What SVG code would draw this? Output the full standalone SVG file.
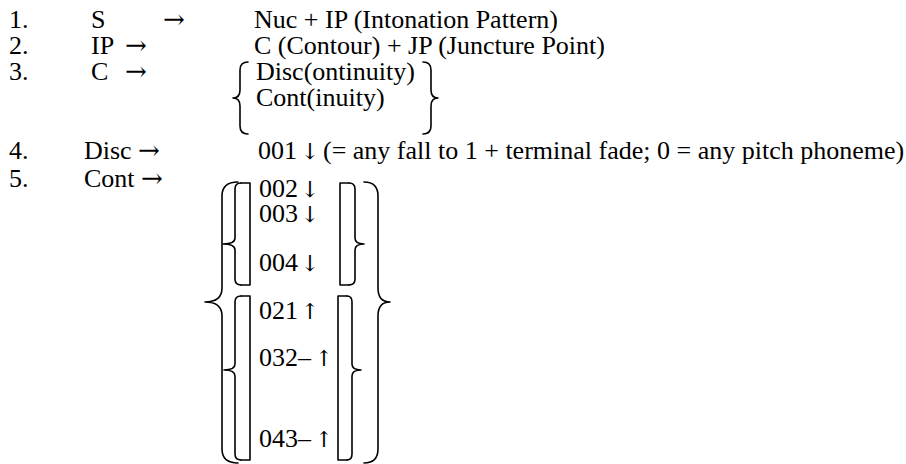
<svg xmlns="http://www.w3.org/2000/svg" width="906" height="464" viewBox="0 0 906 464">
  <style>
    text { font-family: "Liberation Serif", "Times New Roman", serif; font-size: 26px; fill: #000; }
    .ar { font-family: "DejaVu Serif", "DejaVu Sans", serif; }
    .vr { font-family: "DejaVu Serif", "DejaVu Sans", serif; font-size: 22px; text-anchor: middle; }
    .br { fill: none; stroke: #000; stroke-width: 1.6; stroke-linejoin: round; stroke-linecap: round; }
  </style>
  <rect width="906" height="464" fill="#fff"/>

  <!-- Rule 1 -->
  <g id="rule1">
    <text x="9" y="28">1.</text>
    <text x="91" y="28">S</text>
    <text x="163" y="28" class="ar">→</text>
    <text x="254" y="28">Nuc + IP (Intonation Pattern)</text>
  </g>

  <!-- Rule 2 -->
  <g id="rule2">
    <text x="9" y="54">2.</text>
    <text x="91" y="54">IP</text>
    <text x="125" y="54" class="ar">→</text>
    <text x="254" y="54">C (Contour) + JP (Juncture Point)</text>
  </g>

  <!-- Rule 3: choice between two contour types -->
  <g id="rule3">
    <text x="9" y="80">3.</text>
    <text x="91" y="80">C</text>
    <text x="125" y="80" class="ar">→</text>
    <text x="256" y="80">Disc(ontinuity)</text>
    <text x="256" y="106">Cont(inuity)</text>
    <path class="br" d="M248,62 Q240,62 240,70 L240,90 Q240,98 233,98 Q240,98 240,106 L240,126 Q240,134 248,134"/>
    <path class="br" d="M423,62 Q431,62 431,70 L431,90 Q431,98 438,98 Q431,98 431,106 L431,126 Q431,134 423,134"/>
  </g>

  <!-- Rule 4 -->
  <g id="rule4">
    <text x="9" y="159">4.</text>
    <text x="84" y="159">Disc</text>
    <text x="138" y="159" class="ar">→</text>
    <text x="258" y="159">001</text>
    <text x="310" y="159" class="vr">↓</text>
    <text x="323" y="159">(= any fall to 1 + terminal fade; 0 = any pitch phoneme)</text>
  </g>

  <!-- Rule 5: falling and rising continuity contours -->
  <g id="rule5">
    <text x="9" y="187">5.</text>
    <text x="84" y="187">Cont</text>
    <text x="141" y="187" class="ar">→</text>

    <g id="falling">
      <text x="259" y="197">002</text>
      <text x="310" y="197" class="vr">↓</text>
      <text x="259" y="222">003</text>
      <text x="310" y="222" class="vr">↓</text>
      <text x="259" y="271">004</text>
      <text x="310" y="271" class="vr">↓</text>
      <path class="br" d="M241,183 L250,183 L250,285 L241,285"/>
      <path class="br" d="M241,183 Q235,183 235,189 L235,238 Q235,244 223,244 Q235,244 235,250 L235,279 Q235,285 241,285"/>
      <path class="br" d="M349,183 L340,183 L340,285 L349,285"/>
      <path class="br" d="M349,183 Q355,183 355,189 L355,238 Q355,244 364,244 Q355,244 355,250 L355,279 Q355,285 349,285"/>
    </g>

    <g id="rising">
      <text x="259" y="319">021</text>
      <text x="310" y="319" class="vr">↑</text>
      <text x="259" y="366">032–</text>
      <text x="324" y="366" class="vr">↑</text>
      <text x="259" y="447">043–</text>
      <text x="324" y="447" class="vr">↑</text>
      <path class="br" d="M241,296 L250,296 L250,460 L241,460"/>
      <path class="br" d="M241,296 Q235,296 235,302 L235,364 Q235,370 224,370 Q235,370 235,376 L235,454 Q235,460 241,460"/>
      <path class="br" d="M347,296 L338,296 L338,460 L347,460"/>
      <path class="br" d="M347,296 Q352,296 352,302 L352,364 Q352,370 361,370 Q352,370 352,376 L352,454 Q352,460 347,460"/>
    </g>

    <!-- outer braces enclosing both groups -->
    <path class="br" d="M238,182 Q222,182 222,196 L222,288 Q222,302 205,302 Q222,302 222,316 L222,449 Q222,463 238,463"/>
    <path class="br" d="M364,182 Q378,182 378,196 L378,288 Q378,302 390,302 Q378,302 378,316 L378,449 Q378,463 364,463"/>
  </g>
</svg>
